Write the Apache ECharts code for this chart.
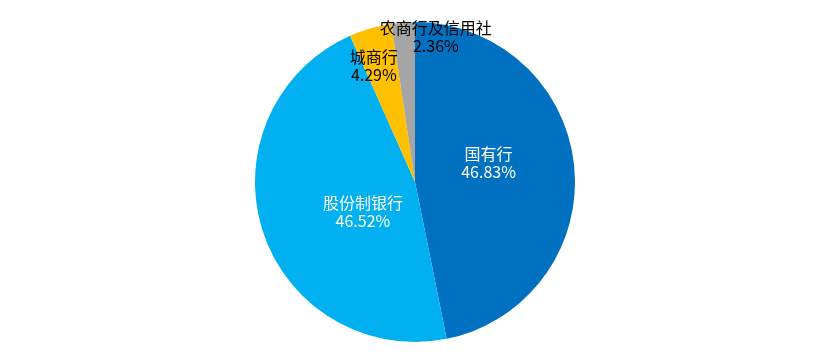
<!DOCTYPE html>
<html><head><meta charset="utf-8">
<script src="https://cdn.jsdelivr.net/npm/echarts@6/dist/echarts.min.js"></script>
<style>html,body{margin:0;padding:0;background:#fff}#c{width:830px;height:363px}</style>
</head><body><div id="c"></div>
<script>
const categories = ['国有行', '股份制银行', '城商行', '农商行及信用社'];
const values = [46.83, 46.52, 4.29, 2.36];
const colors = ['#0070C0', '#00B0F0', '#FFC000', '#A5A5A5'];
const labelColors = ['#fff', '#fff', '#000', '#000'];
const labelShift = [[-9, -11], [27, 5], [-18, -36], [27, -62]];

const chart = echarts.init(document.getElementById('c'));
chart.setOption({
  animation: false,
  series: [{
    type: 'pie',
    center: [415, 182],
    radius: [0, 160],
    startAngle: 90,
    clockwise: true,
    data: categories.map((n, i) => ({
      name: n, value: values[i],
      itemStyle: { color: colors[i] },
      label: { color: labelColors[i] }
    })),
    itemStyle: { borderColor: '#fff', borderWidth: 0 },
    label: {
      show: true,
      position: 'inside',
      fontFamily: '"Noto Sans CJK SC", sans-serif',
      fontSize: 16,
      lineHeight: 18,
      formatter: p => p.name + '\n' + values[p.dataIndex].toFixed(2) + '%'
    },
    labelLayout: p => ({ dx: labelShift[p.dataIndex][0], dy: labelShift[p.dataIndex][1] })
  }]
});
</script></body></html>
